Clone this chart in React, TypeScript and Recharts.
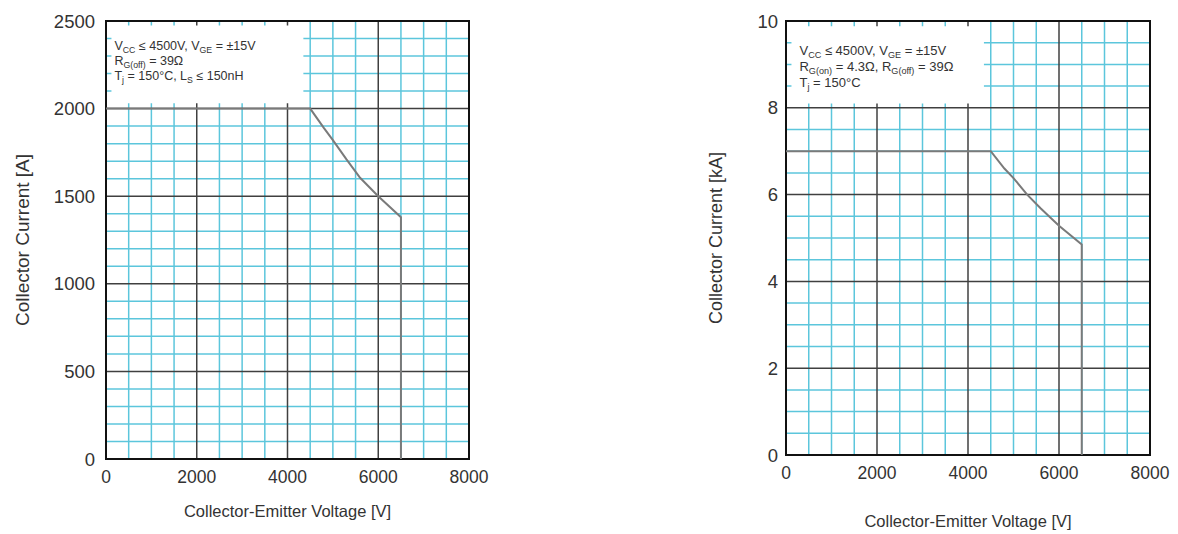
import React from "react";
import {
  CartesianGrid,
  Label,
  Line,
  LineChart,
  ReferenceArea,
  XAxis,
  YAxis,
} from "recharts";

// shared x axis (Collector-Emitter Voltage)
const xTicks = [0, 2000, 4000, 6000, 8000];
const xMinor = [500, 1000, 1500, 2500, 3000, 3500, 4500, 5000, 5500, 6500, 7000, 7500];
const xMajor = [2000, 4000, 6000];

// left chart: Collector Current [A]
const leftYTicks = [0, 500, 1000, 1500, 2000, 2500];
const leftYMinor = [100, 200, 300, 400, 600, 700, 800, 900, 1100, 1200, 1300, 1400, 1600, 1700, 1800, 1900, 2100, 2200, 2300, 2400];
const leftYMajor = [500, 1000, 1500, 2000];
const leftVce = [0, 4500, 4800, 5000, 5300, 5600, 6000, 6500, 6500];
const leftIc = [2000, 2000, 1890, 1820, 1710, 1605, 1500, 1380, 0];

// right chart: Collector Current [kA]
const rightYTicks = [0, 2, 4, 6, 8, 10];
const rightYMinor = [0.5, 1, 1.5, 2.5, 3, 3.5, 4.5, 5, 5.5, 6.5, 7, 7.5, 8.5, 9, 9.5];
const rightYMajor = [2, 4, 6, 8];
const rightVce = [0, 4500, 4800, 5000, 5300, 5600, 6000, 6500, 6500];
const rightIc = [7, 7, 6.6, 6.38, 6.0, 5.68, 5.28, 4.85, 0];

type Seg = { t: string; sub?: boolean };

const leftNotes: Seg[][] = [
  [{ t: "V" }, { t: "CC", sub: true }, { t: " ≤ 4500V, V" }, { t: "GE", sub: true }, { t: " = ±15V" }],
  [{ t: "R" }, { t: "G(off)", sub: true }, { t: " = 39Ω" }],
  [{ t: "T" }, { t: "j", sub: true }, { t: " = 150°C, L" }, { t: "S", sub: true }, { t: " ≤ 150nH" }],
];
const rightNotes: Seg[][] = [
  [{ t: "V" }, { t: "CC", sub: true }, { t: " ≤ 4500V, V" }, { t: "GE", sub: true }, { t: " = ±15V" }],
  [{ t: "R" }, { t: "G(on)", sub: true }, { t: " = 4.3Ω, R" }, { t: "G(off)", sub: true }, { t: " = 39Ω" }],
  [{ t: "T" }, { t: "j", sub: true }, { t: " = 150°C" }],
];

const FONT = "'Liberation Sans', Arial, sans-serif";
const CYAN = "#5cc6dc";
const DARK = "#404040";
const CURVE = "#7a7a7a";
const TEXT = "#333";

function noteRenderer(lines: Seg[][], fontSize: number, dx: number, firstDy: number, lineGap: number) {
  return (props: any) => {
    const vb = props.viewBox || {};
    return (
      <g>
        {lines.map((line, i) => (
          <text
            key={i}
            x={vb.x + dx}
            y={vb.y + firstDy + i * lineGap}
            fontSize={fontSize}
            fontFamily={FONT}
            fill={TEXT}
          >
            {line.map((s, j) =>
              s.sub ? (
                <tspan key={j} fontSize={fontSize * 0.7} dy={3}>
                  {s.t}
                </tspan>
              ) : (
                <tspan key={j} dy={j > 0 && line[j - 1].sub ? -3 : 0}>
                  {s.t}
                </tspan>
              )
            )}
          </text>
        ))}
      </g>
    );
  };
}

type SoaProps = {
  left: number;
  yAxisWidth: number;
  marginRight: number;
  xAxisHeight: number;
  yTicks: number[];
  yMinor: number[];
  yMajor: number[];
  yMax: number;
  vce: number[];
  ic: number[];
  yLabel: string;
  yLabelSize: number;
  yLabelOffset: number;
  xLabelOffset: number;
  yTickMargin: number;
  box: { x1: number; x2: number; y1: number; y2: number };
  notes: Seg[][];
  noteSize: number;
  noteDx: number;
  noteFirst: number;
  noteGap: number;
};

function SoaChart(p: SoaProps) {
  const data = p.vce.map((v, i) => ({ vce: v, ic: p.ic[i] }));
  return (
    <div style={{ position: "absolute", left: p.left, top: 0 }}>
      <LineChart
        width={589}
        height={534}
        data={data}
        margin={{ top: 21, right: p.marginRight, bottom: 0, left: 0 }}
      >
        <CartesianGrid verticalValues={xMinor} horizontalValues={p.yMinor} stroke={CYAN} strokeWidth={1.5} />
        <CartesianGrid verticalValues={xMajor} horizontalValues={p.yMajor} stroke={DARK} strokeWidth={1.5} />
        <XAxis
          type="number"
          dataKey="vce"
          domain={[0, 8000]}
          ticks={xTicks}
          interval={0}
          allowDataOverflow
          axisLine={false}
          tickLine={false}
          tickSize={0}
          tickMargin={12}
          height={p.xAxisHeight}
          tick={{ fontSize: 17.5, fill: TEXT, fontFamily: FONT }}
        >
          <Label
            value="Collector-Emitter Voltage [V]"
            position="insideBottom"
            offset={p.xLabelOffset}
            style={{ fontSize: 16.5, fill: TEXT, fontFamily: FONT }}
          />
        </XAxis>
        <YAxis
          type="number"
          domain={[0, p.yMax]}
          ticks={p.yTicks}
          interval={0}
          allowDataOverflow
          axisLine={false}
          tickLine={false}
          tickSize={0}
          tickMargin={p.yTickMargin}
          width={p.yAxisWidth}
          tick={{ fontSize: 18.5, fill: TEXT, fontFamily: FONT }}
        >
          <Label
            value={p.yLabel}
            angle={-90}
            position="insideLeft"
            offset={p.yLabelOffset}
            style={{ fontSize: p.yLabelSize, fill: TEXT, fontFamily: FONT, textAnchor: "middle" }}
          />
        </YAxis>
        <ReferenceArea
          x1={p.box.x1}
          x2={p.box.x2}
          y1={p.box.y1}
          y2={p.box.y2}
          fill="#ffffff"
          fillOpacity={1}
          stroke="none"
          label={noteRenderer(p.notes, p.noteSize, p.noteDx, p.noteFirst, p.noteGap)}
        />
        <Line
          type="linear"
          dataKey="ic"
          stroke={CURVE}
          strokeWidth={2}
          dot={false}
          isAnimationActive={false}
        />
        <ReferenceArea
          x1={0}
          x2={8000}
          y1={0}
          y2={p.yMax}
          fill="none"
          stroke="#111"
          strokeWidth={2}
        />
      </LineChart>
    </div>
  );
}

export default function App() {
  return (
    <div style={{ position: "absolute", left: 0, top: 0, width: 1178, height: 534, background: "#fff" }}>
      <SoaChart
        left={0}
        yAxisWidth={106}
        marginRight={120}
        xAxisHeight={75}
        yTicks={leftYTicks}
        yMinor={leftYMinor}
        yMajor={leftYMajor}
        yMax={2500}
        vce={leftVce}
        ic={leftIc}
        yLabel="Collector Current [A]"
        yLabelSize={19}
        yLabelOffset={22}
        xLabelOffset={17}
        yTickMargin={11}
        box={{ x1: 120, x2: 4350, y1: 2030, y2: 2475 }}
        notes={leftNotes}
        noteSize={12.5}
        noteDx={3}
        noteFirst={25}
        noteGap={15}
      />
      <SoaChart
        left={589}
        yAxisWidth={197}
        marginRight={28}
        xAxisHeight={79}
        yTicks={rightYTicks}
        yMinor={rightYMinor}
        yMajor={rightYMajor}
        yMax={10}
        vce={rightVce}
        ic={rightIc}
        yLabel="Collector Current [kA]"
        yLabelSize={18}
        yLabelOffset={127}
        xLabelOffset={7}
        yTickMargin={8}
        box={{ x1: 120, x2: 4350, y1: 8.1, y2: 9.88 }}
        notes={rightNotes}
        noteSize={13}
        noteDx={8}
        noteFirst={29}
        noteGap={16}
      />
    </div>
  );
}
